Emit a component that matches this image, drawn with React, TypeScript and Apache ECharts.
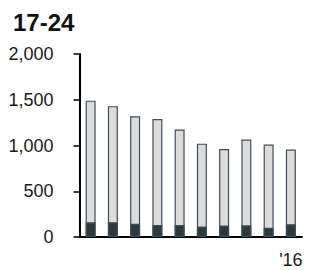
import React, { useEffect, useRef } from "react";
import * as echarts from "echarts";

const categories = ["'07", "'08", "'09", "'10", "'11", "'12", "'13", "'14", "'15", "'16"];
const totals = [1490, 1430, 1320, 1290, 1175, 1020, 962, 1065, 1010, 955];
const darkPart = [162, 162, 144, 130, 130, 115, 125, 128, 100, 140];
const yTicks = [0, 500, 1000, 1500, 2000];

export default function App() {
  const ref = useRef<HTMLDivElement>(null);
  useEffect(() => {
    if (!ref.current) return;
    const chart = echarts.init(ref.current, undefined, { renderer: "svg" });
    chart.setOption({
      animation: false,
      title: {
        text: "17-24",
        left: 8,
        top: 5,
        textStyle: { fontFamily: "Liberation Sans, Arial", fontWeight: "bold", fontSize: 24, color: "#111" },
      },
      grid: { left: 79.5, right: 13, top: 54, bottom: 33, containLabel: false },
      xAxis: {
        type: "category",
        data: categories,
        axisLine: { show: true, lineStyle: { color: "#000", width: 2 } },
        axisTick: { show: false },
        axisLabel: {
          interval: (i: number) => i === categories.length - 1,
          margin: 14,
          fontFamily: "Liberation Sans, Arial",
          fontSize: 18,
          color: "#1a1a1a",
        },
      },
      yAxis: {
        type: "value",
        min: yTicks[0],
        max: yTicks[yTicks.length - 1],
        interval: 500,
        splitLine: { show: false },
        axisLine: { show: true, lineStyle: { color: "#000", width: 2 } },
        axisTick: { show: true, length: 6, lineStyle: { color: "#000", width: 1.5 } },
        axisLabel: {
          margin: 26,
          fontFamily: "Liberation Sans, Arial",
          fontSize: 18,
          color: "#1a1a1a",
          formatter: (v: number) => v.toLocaleString("en-US"),
        },
      },
      series: [
        {
          type: "bar",
          data: totals,
          barWidth: 10,
          barGap: "-100%",
          itemStyle: { color: "#dcdcdc", borderColor: "#3f4e56", borderWidth: 1.2 },
        },
        {
          type: "bar",
          data: darkPart,
          barWidth: 10,
          barGap: "-100%",
          itemStyle: { color: "#2c393f", borderColor: "#3f4e56", borderWidth: 1.2 },
        },
      ],
    });
    return () => chart.dispose();
  }, []);
  return <div ref={ref} style={{ width: 315, height: 270, position: "absolute", left: 0, top: 0 }} />;
}
